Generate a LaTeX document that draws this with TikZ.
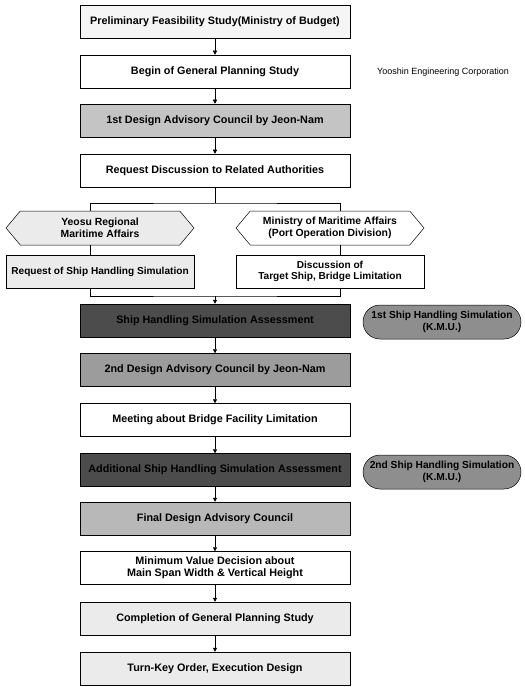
\documentclass[tikz,border=0pt]{standalone}
\usepackage{fontspec}
\setmainfont{Liberation Sans}
\usetikzlibrary{shapes.symbols,shapes.misc,arrows.meta}

\definecolor{paleGray}{HTML}{EBEBEB}
\definecolor{lightGray}{HTML}{C4C4C4}
\definecolor{midGray}{HTML}{9C9C9C}
\definecolor{darkGray}{HTML}{4C4C4C}
\definecolor{pillGray}{HTML}{8E8E8E}

\begin{document}
\begin{tikzpicture}[x=1pt,y=-1pt,
		stage/.style={draw,line width=0.5pt,minimum width=270pt,minimum height=33pt,inner sep=1pt,align=center,font=\bfseries\fontsize{10.8}{12}\selectfont},
		authority/.style={draw,line width=0.5pt,signal,signal to=west and east,signal pointer angle=100,minimum width=188pt,minimum height=34pt,inner sep=1pt,align=center,font=\bfseries\fontsize{10.4}{12}\selectfont},
		sidebox/.style={stage,minimum width=188pt,font=\bfseries\fontsize{10.1}{11.5}\selectfont},
		simpill/.style={draw,line width=0.5pt,rounded rectangle,fill=pillGray,minimum width=160pt,minimum height=34pt,inner sep=1pt,align=center,font=\bfseries\fontsize{10.2}{11.5}\selectfont},
		link/.style={line width=0.5pt,-{Triangle[length=4pt,width=4pt]}},
		line/.style={line width=0.5pt}]
		\useasboundingbox (0,0) rectangle (524,687);
		% main column
		\node[stage,fill=paleGray!50] (pre) at (215,21.5) {Preliminary Feasibility Study(Ministry of Budget)};
		\node[stage,fill=white] (begin) at (215,71.5) {Begin of General Planning Study};
		\node[stage,fill=lightGray] (des1) at (215,120.5) {1st Design Advisory Council by Jeon-Nam};
		\node[stage,fill=white] (req) at (215,170.5) {Request Discussion to Related Authorities};
		% two authorities
		\node[authority,fill=paleGray] (hexL) at (100,228) {Yeosu Regional\\Maritime Affairs};
		\node[authority,fill=white] (hexR) at (330,228) {Ministry of Maritime Affairs\\(Port Operation Division)};
		\node[sidebox,fill=paleGray] (shipreq) at (100,271.5) {Request of Ship Handling Simulation};
		\node[sidebox,fill=white] (disc) at (330,271.5) {Discussion of\\Target Ship, Bridge Limitation};
		\node[stage,fill=darkGray] (shsa) at (215,320.5) {Ship Handling Simulation Assessment};
		\node[stage,fill=midGray] (des2) at (215,370) {2nd Design Advisory Council by Jeon-Nam};
		\node[stage,fill=white] (meet) at (215,420) {Meeting about Bridge Facility Limitation};
		\node[stage,fill=darkGray] (add) at (215,470) {Additional Ship Handling Simulation Assessment};
		\node[stage,fill=lightGray!85!black!80] (final) at (215,518.5) {Final Design Advisory Council};
		\node[stage,fill=white] (mini) at (215,568) {Minimum Value Decision about\\Main Span Width \& Vertical Height};
		\node[stage,fill=paleGray] (compl) at (215,618.5) {Completion of General Planning Study};
		\node[stage,fill=paleGray] (turn) at (215,668.5) {Turn-Key Order, Execution Design};
		% side notes
		\node[font=\fontsize{9}{10}\selectfont] (yooshin) at (443,72) {Yooshin Engineering Corporation};
		\node[simpill] (sim1) at (442,322) {1st Ship Handling Simulation\\(K.M.U.)};
		\node[simpill] (sim2) at (442,472) {2nd Ship Handling Simulation\\(K.M.U.)};
		% connectors
		\coordinate (fork) at (215,203);
		\coordinate (join) at (215,296);
		\draw[link] (pre) -- (begin);
		\draw[link] (begin) -- (des1);
		\draw[link] (des1) -- (req);
		\draw[line] (req) -- (fork);
		\draw[line] ([xshift=-10pt]hexL.north) |- (fork) -| ([xshift=10pt]hexR.north);
		\draw[line] ([xshift=-10pt]hexL.south) -- ([xshift=-10pt]shipreq.north);
		\draw[line] ([xshift=10pt]hexR.south) -- ([xshift=10pt]disc.north);
		\draw[line] ([xshift=-10pt]shipreq.south) |- (join) -| ([xshift=10pt]disc.south);
		\draw[link] (join) -- (shsa);
		\draw[link] (shsa) -- (des2);
		\draw[link] (des2) -- (meet);
		\draw[link] (meet) -- (add);
		\draw[link] (add) -- (final);
		\draw[link] (final) -- (mini);
		\draw[link] (mini) -- (compl);
		\draw[link] (compl) -- (turn);
	\end{tikzpicture}
\end{document}
